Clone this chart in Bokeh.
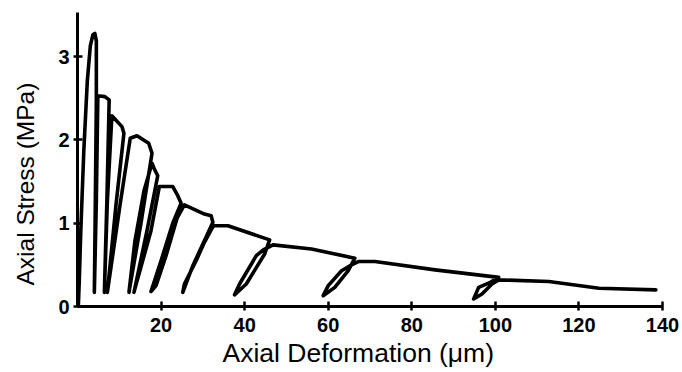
from bokeh.plotting import figure
from bokeh.models import FixedTicker, Range1d, Title
from bokeh.embed import file_html
from bokeh.resources import INLINE

# Traced loading/unloading path (deformation in micrometres, stress in MPa)
deformation_um = [
    0.2, 0.43, 0.79, 1.51, 2.35, 3.07, 3.67, 4.15, 4.51,
    4.51, 4.27, 4.03,
    4.51, 4.87,
    6.55, 7.58,
    7.03, 6.43,
    7.15, 8.23,
    10.63, 11.11,
    9.19, 7.15,
    10.15, 12.62,
    14.23, 17.04, 17.83,
    15.19, 12.31,
    13.75, 15.91, 17.83,
    18.31, 19.20,
    16.63, 13.51,
    17.59, 19.58,
    22.80, 24.00, 24.79,
    22.87, 19.99, 17.59,
    18.79, 21.19, 23.83, 25.58,
    30.38, 31.99, 32.40,
    30.00, 27.60, 25.20,
    25.58, 28.39, 30.38, 32.40,
    32.78, 36.00, 45.98,
    44.78, 40.39, 37.58,
    38.78, 42.79, 44.47, 46.80,
    55.99, 66.38,
    64.79, 61.58, 58.80,
    60.00, 63.19, 65.59, 67.20,
    71.18, 85.58, 100.80,
    98.80, 96.00, 94.80,
    96.80, 99.20, 100.80,
    112.80, 124.80, 138.40,
]
stress_mpa = [
    0.00, 0.31, 0.91, 1.87, 2.71, 3.13, 3.26, 3.28, 3.19,
    2.47, 1.27, 0.17,
    1.27, 2.53,
    2.52, 2.48,
    1.27, 0.17,
    1.27, 2.29,
    2.16, 2.08,
    1.21, 0.17,
    1.21, 2.02,
    2.05, 1.96, 1.84,
    1.00, 0.17,
    0.79, 1.39, 1.72,
    1.66, 1.57,
    0.91, 0.17,
    0.91, 1.44,
    1.44, 1.33, 1.24,
    1.01, 0.55, 0.18,
    0.25, 0.61, 1.06, 1.22,
    1.11, 1.09, 1.01,
    0.75, 0.49, 0.17,
    0.27, 0.55, 0.77, 0.96,
    0.97, 0.97, 0.80,
    0.63, 0.27, 0.14,
    0.27, 0.61, 0.68, 0.74,
    0.69, 0.58,
    0.43, 0.23, 0.13,
    0.25, 0.43, 0.50, 0.54,
    0.54, 0.44, 0.35,
    0.29, 0.23, 0.09,
    0.15, 0.27, 0.32,
    0.30, 0.22, 0.20,
]

x_ticks = [20, 40, 60, 80, 100, 120, 140]
y_ticks = [0, 1, 2, 3]
x_title = "Axial Deformation (\u03bcm)"
y_title = "Axial Stress (MPa)"

p = figure(width=680, height=372, output_backend="svg", toolbar_location=None,
           x_range=Range1d(0, 140), y_range=Range1d(0, 3.53),
           min_border_left=77, min_border_right=18, min_border_top=12, min_border_bottom=66)
p.outline_line_color = None
p.xgrid.visible = False
p.ygrid.visible = False
p.background_fill_color = "white"

p.line(deformation_um, stress_mpa, line_color="black", line_width=3.6,
       line_join="round", line_cap="round")

for ax in (p.xaxis[0], p.yaxis[0]):
    ax.axis_line_width = 3
    ax.axis_line_color = "black"
    ax.major_tick_line_width = 2.5
    ax.major_tick_line_color = "black"
    ax.minor_tick_line_color = None
    ax.major_label_text_font = "Liberation Sans"
    ax.major_label_text_font_style = "bold"
    ax.major_label_text_font_size = "20px"
    ax.major_label_text_color = "black"

p.xaxis[0].ticker = FixedTicker(ticks=x_ticks)
p.xaxis[0].major_tick_in = 5
p.xaxis[0].major_tick_out = 4
p.xaxis[0].major_label_standoff = 7

p.yaxis[0].ticker = FixedTicker(ticks=y_ticks)
p.yaxis[0].major_tick_in = 5
p.yaxis[0].major_tick_out = 4
p.yaxis[0].major_label_standoff = 4
# blank axis label used only as a spacer between tick labels and the title
p.yaxis[0].axis_label = " "
p.yaxis[0].axis_label_text_font_size = "2px"
p.yaxis[0].axis_label_standoff = 7

p.add_layout(Title(text=y_title, align="left", offset=21, standoff=10,
                   text_font="Liberation Sans", text_font_size="24.5px",
                   text_font_style="normal", text_color="black"), "left")
p.add_layout(Title(text=x_title, align="left", offset=145, standoff=3,
                   text_font="Liberation Sans", text_font_size="26.5px",
                   text_font_style="normal", text_color="black"), "below")

open("out.html", "w").write(file_html(p, INLINE))
